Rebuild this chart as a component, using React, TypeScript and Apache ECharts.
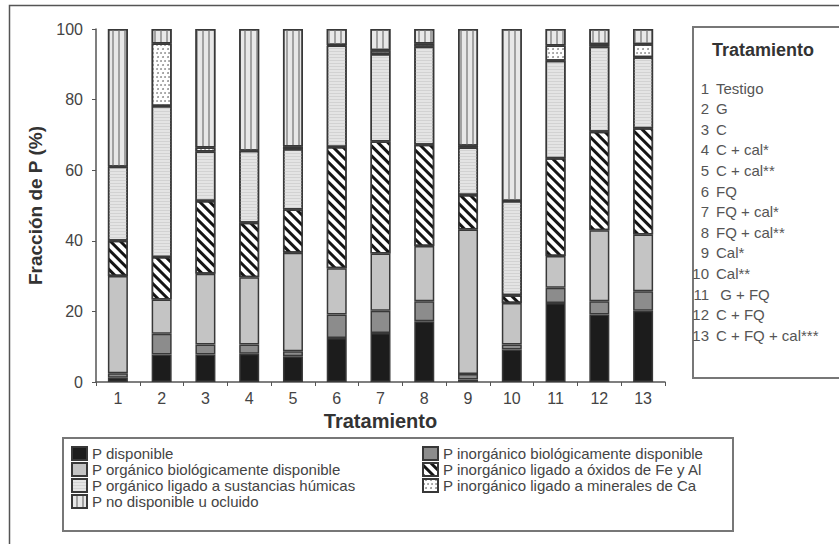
import React, { useEffect, useRef } from "react";
import * as echarts from "echarts";

const categories = ["1", "2", "3", "4", "5", "6", "7", "8", "9", "10", "11", "12", "13"];
const treatmentNames = [
  "Testigo", "G", "C", "C + cal*", "C + cal**", "FQ", "FQ + cal*", "FQ + cal**",
  "Cal*", "Cal**", " G + FQ", "C + FQ", "C + FQ + cal***",
];
const yTicks = { min: 0, max: 100, interval: 20 };

const seriesNames = [
  "P disponible",
  "P inorgánico biológicamente disponible",
  "P orgánico biológicamente disponible",
  "P inorgánico ligado a óxidos de Fe y Al",
  "P orgánico ligado a sustancias húmicas",
  "P inorgánico ligado a minerales de Ca",
  "P no disponible u ocluido",
];

const pDisponible = [1.2, 7.8, 7.8, 8.0, 7.3, 12.5, 13.9, 17.2, 0.7, 9.2, 22.4, 19.1, 20.2];
const pInorgBio = [1.3, 5.9, 2.8, 2.6, 1.4, 6.6, 6.3, 5.7, 1.6, 1.4, 4.3, 3.8, 5.5];
const pOrgBio = [27.5, 9.7, 20.1, 19.1, 27.9, 13.1, 16.2, 15.6, 40.9, 11.8, 9.0, 20.1, 16.1];
const pFeAl = [10.0, 12.0, 20.6, 15.4, 12.3, 34.4, 31.7, 28.7, 9.8, 2.2, 27.7, 27.9, 30.1];
const pHumic = [21.0, 42.8, 14.0, 20.4, 17.0, 28.7, 24.8, 27.8, 13.4, 26.7, 27.6, 24.1, 20.1];
const pCa = [null, 17.7, 1.1, null, 0.8, 0.2, 1.1, 0.9, 0.5, null, 4.3, 0.7, 3.7];
const pNoDisp = [39.0, 4.1, 33.6, 34.5, 33.3, 4.5, 6.0, 4.1, 33.1, 48.7, 4.7, 4.3, 4.3];

const seriesData = [pDisponible, pInorgBio, pOrgBio, pFeAl, pHumic, pCa, pNoDisp];

const FONT = "'Liberation Sans', Arial, sans-serif";

const styles: any[] = [
  { color: "#1c1c1c" },
  { color: "#8c8c8c" },
  { color: "#c4c4c4" },
  {
    color: "#ffffff",
    decal: { symbol: "rect", symbolSize: 1, dashArrayX: [1, 0], dashArrayY: [3, 3.5], rotation: Math.PI / 4, color: "#151515" },
  },
  {
    color: "#e4e4e4",
    decal: { symbol: "rect", symbolSize: 1, dashArrayX: [1, 0], dashArrayY: [1, 1.5], rotation: 0, color: "#d2d2d2" },
  },
  {
    color: "#ffffff",
    decal: { symbol: "circle", symbolSize: 0.9, dashArrayX: [[1.5, 2], [0, 1.75, 1.5, 0.25]], dashArrayY: [1.5, 1.2], rotation: 0, color: "#8a8a8a" },
  },
  {
    color: "#e8e8e8",
    decal: { symbol: "rect", symbolSize: 1, dashArrayX: [1, 0], dashArrayY: [1.3, 3.6], rotation: Math.PI / 2, color: "#a2a2a2" },
  },
];

export default function App() {
  const ref = useRef<HTMLDivElement>(null);
  useEffect(() => {
    if (!ref.current) return;
    const chart = echarts.init(ref.current, null, { renderer: "svg" });

    const boxItems: any[] = [];
    boxItems.push({
      type: "rect",
      shape: { x: 693, y: 27, width: 160, height: 351 },
      style: { fill: "#fff", stroke: "#777", lineWidth: 2 },
      z: 0,
    });
    boxItems.push({
      type: "text",
      x: 712,
      y: 50,
      style: { text: "Tratamiento", font: `bold 18px ${FONT}`, fill: "#333", verticalAlign: "middle" },
      z: 1,
    });
    treatmentNames.forEach((name, i) => {
      const y = 88 + i * 20.6;
      boxItems.push({
        type: "text",
        x: 709,
        y,
        style: { text: categories[i], font: `15px ${FONT}`, fill: "#555", align: "right", verticalAlign: "middle" },
        z: 1,
      });
      boxItems.push({
        type: "text",
        x: 716,
        y,
        style: { text: name, font: `15px ${FONT}`, fill: "#555", align: "left", verticalAlign: "middle" },
        z: 1,
      });
    });

    const legendBase = {
      orient: "vertical",
      top: 446,
      padding: 0,
      itemGap: 1,
      itemWidth: 15,
      itemHeight: 13,
      icon: "rect",
      selectedMode: false,
      textStyle: { fontSize: 15, lineHeight: 14, color: "#444", fontFamily: FONT },
    };

    const option: any = {
      animation: false,
      backgroundColor: "#fff",
      textStyle: { fontFamily: FONT },
      grid: { left: 96, top: 29, width: 569, height: 353 },
      xAxis: {
        type: "category",
        data: categories,
        name: "Tratamiento",
        nameLocation: "middle",
        nameGap: 23,
        nameTextStyle: { fontSize: 20, fontWeight: "bold", color: "#333", fontFamily: FONT, verticalAlign: "top" },
        axisLine: { lineStyle: { color: "#555", width: 1.5 } },
        axisTick: { show: true, length: 4, lineStyle: { color: "#555" } },
        axisLabel: { fontSize: 16, color: "#444", margin: 8, fontFamily: FONT },
      },
      yAxis: {
        type: "value",
        min: yTicks.min,
        max: yTicks.max,
        interval: yTicks.interval,
        name: "Fracción de P (%)",
        nameLocation: "middle",
        nameGap: 50,
        nameRotate: 90,
        nameTextStyle: { fontSize: 19, fontWeight: "bold", color: "#333", fontFamily: FONT },
        axisLine: { show: true, lineStyle: { color: "#555", width: 1.5 } },
        axisTick: { show: true, length: 4, lineStyle: { color: "#555" } },
        splitLine: { show: false },
        axisLabel: { fontSize: 16, color: "#444", margin: 13, fontFamily: FONT },
      },
      legend: [
        {
          ...legendBase,
          left: 71,
          data: [seriesNames[0], seriesNames[2], seriesNames[4], seriesNames[6]],
        },
        {
          ...legendBase,
          left: 422,
          data: [seriesNames[1], seriesNames[3], seriesNames[5]],
        },
      ],
      graphic: [
        {
          type: "rect",
          shape: { x: 9.5, y: 5.5, width: 900, height: 600 },
          style: { fill: "none", stroke: "#555", lineWidth: 1.5 },
          z: -10,
          silent: true,
        },
        {
          type: "rect",
          shape: { x: 63, y: 438, width: 670, height: 93 },
          style: { fill: "none", stroke: "#777", lineWidth: 2 },
          z: 0,
          silent: true,
        },
        ...boxItems,
      ],
      series: seriesNames.map((name, k) => ({
        name,
        type: "bar",
        stack: "total",
        barWidth: 20,
        data: seriesData[k],
        itemStyle: { ...styles[k], borderColor: "#383838", borderWidth: 1.5 },
        emphasis: { disabled: true },
      })),
    };
    chart.setOption(option);
    return () => chart.dispose();
  }, []);
  return (
    <div
      ref={ref}
      style={{ position: "fixed", left: 0, top: 0, width: 839, height: 544, background: "#fff" }}
    />
  );
}
